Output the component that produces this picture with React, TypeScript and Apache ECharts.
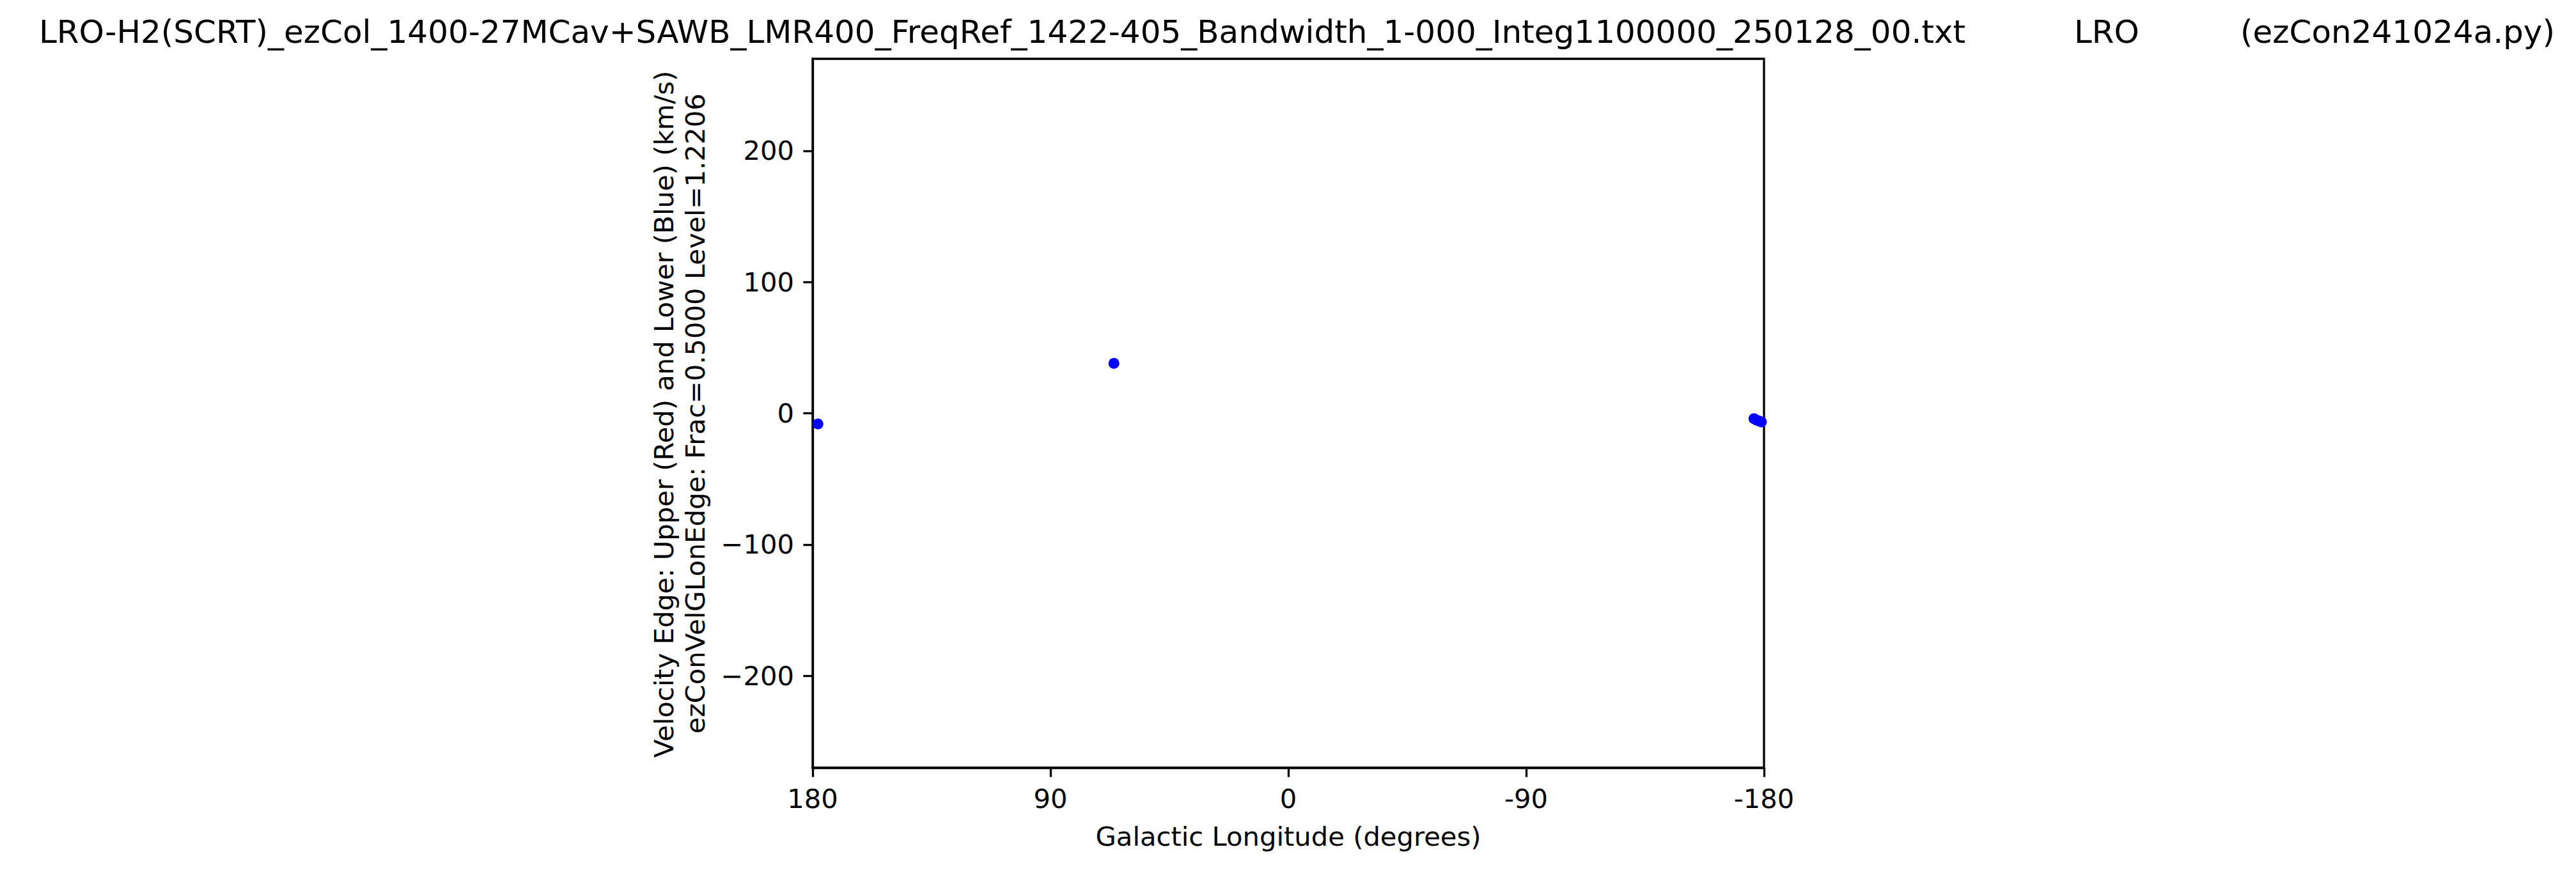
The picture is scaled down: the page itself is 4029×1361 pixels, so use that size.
import React, { useEffect, useRef } from "react";
import * as echarts from "echarts";

const titleMain =
  "LRO-H2(SCRT)_ezCol_1400-27MCav+SAWB_LMR400_FreqRef_1422-405_Bandwidth_1-000_Integ1100000_250128_00.txt";
const titleSite = "LRO";
const titleProg = "(ezCon241024a.py)";
const yLabelLine1 = "Velocity Edge: Upper (Red) and Lower (Blue) (km/s)";
const yLabelLine2 = "ezConVelGLonEdge: Frac=0.5000 Level=1.2206";
const xLabel = "Galactic Longitude (degrees)";

const xTicks = [180, 90, 0, -90, -180];
const yTicks = [-200, -100, 0, 100, 200];

// Lower (blue) edge points: galactic longitude (deg), velocity (km/s)
const lowerLon = [178.0, 66.0, -176.2, -177.0, -178.0, -179.0];
const lowerVel = [-8.1, 38.0, -4.1, -5.0, -5.8, -6.6];

const FONT = "DejaVu Sans";

export default function App() {
  const ref = useRef<HTMLDivElement>(null);
  useEffect(() => {
    document.body.style.margin = "0";
    const chart = echarts.init(ref.current!, null, { renderer: "svg" });
    const gl = 1271, gt = 92, gw = 1488, gh = 1109;
    chart.setOption({
      animation: false,
      backgroundColor: "#ffffff",
      grid: {
        left: gl,
        top: gt,
        width: gw,
        height: gh,
        show: true,
        borderColor: "#000",
        borderWidth: 3.3,
        backgroundColor: "transparent",
      },
      xAxis: {
        type: "value",
        min: -180,
        max: 180,
        inverse: true,
        splitLine: { show: false },
        axisLine: { show: true, onZero: false, lineStyle: { color: "#000", width: 3.3 } },
        axisTick: {
          show: true,
          length: 14.6,
          lineStyle: { color: "#000", width: 3.3 },
          customValues: xTicks,
        },
        axisLabel: {
          show: true,
          customValues: xTicks,
          margin: 27,
          fontFamily: FONT,
          fontSize: 41.7,
          color: "#000",
          formatter: (v: number) => String(v),
        },
      },
      yAxis: {
        type: "value",
        min: -270,
        max: 270,
        splitLine: { show: false },
        axisLine: { show: true, onZero: false, lineStyle: { color: "#000", width: 3.3 } },
        axisTick: {
          show: true,
          length: 14.6,
          lineStyle: { color: "#000", width: 3.3 },
          customValues: yTicks,
        },
        axisLabel: {
          show: true,
          customValues: yTicks,
          margin: 29,
          fontFamily: FONT,
          fontSize: 41.7,
          color: "#000",
          formatter: (v: number) => (v < 0 ? "\u2212" + Math.abs(v) : String(v)),
        },
      },
      series: [
        {
          type: "scatter",
          data: lowerLon.map((lon, i) => [lon, lowerVel[i]]),
          symbol: "circle",
          symbolSize: 17,
          itemStyle: { color: "#0000ff", opacity: 1 },
          clip: true,
          z: 1,
        },
      ],
      graphic: [
        {
          type: "text",
          x: 61,
          y: 50,
          style: {
            text: titleMain,
            font: `50px "${FONT}"`,
            fill: "#000",
            align: "left",
            verticalAlign: "middle",
          },
        },
        {
          type: "text",
          x: 3244,
          y: 50,
          style: {
            text: titleSite,
            font: `50px "${FONT}"`,
            fill: "#000",
            align: "left",
            verticalAlign: "middle",
          },
        },
        {
          type: "text",
          x: 3504,
          y: 50,
          style: {
            text: titleProg,
            font: `50px "${FONT}"`,
            fill: "#000",
            align: "left",
            verticalAlign: "middle",
          },
        },
        {
          type: "text",
          x: 1038,
          y: 648,
          rotation: Math.PI / 2,
          style: {
            text: yLabelLine1,
            font: `41.7px "${FONT}"`,
            fill: "#000",
            align: "center",
            verticalAlign: "middle",
          },
        },
        {
          type: "text",
          x: 1087,
          y: 647,
          rotation: Math.PI / 2,
          style: {
            text: yLabelLine2,
            font: `41.7px "${FONT}"`,
            fill: "#000",
            align: "center",
            verticalAlign: "middle",
          },
        },
        {
          type: "text",
          x: gl + gw / 2,
          y: 1308,
          style: {
            text: xLabel,
            font: `41.7px "${FONT}"`,
            fill: "#000",
            align: "center",
            verticalAlign: "middle",
          },
        },
      ],
    });
    return () => chart.dispose();
  }, []);
  return <div ref={ref} style={{ width: 4029, height: 1361 }} />;
}
